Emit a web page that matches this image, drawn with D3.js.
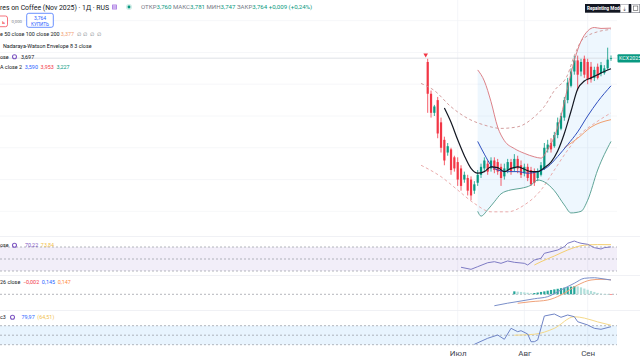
<!DOCTYPE html>
<html>
<head>
<meta charset="utf-8">
<script src="https://cdn.jsdelivr.net/npm/d3@7"></script>
<style>
  body { margin: 0; background: #fff; }
  svg { display: block; font-family: Roboto, "Noto Sans", sans-serif; }
  text { white-space: pre; }
</style>
</head>
<body>
<svg id="chart" width="640" height="360"></svg>
<script>
// daily bars, KCX2025, bar index 0..55
const opens  = [3.74,3.54,3.42,3.50,3.36,3.25,3.17,3.19,3.14,3.11,3.07,3.00,3.01,3.00,2.93,2.98,3.03,3.07,3.10,3.07,3.12,3.11,3.08,3.02,3.06,3.11,3.07,3.13,3.09,3.04,3.08,3.06,3.05,3.01,3.03,3.07,3.19,3.23,3.21,3.28,3.32,3.39,3.50,3.59,3.68,3.75,3.68,3.76,3.74,3.71,3.64,3.71,3.67,3.67,3.70,3.760];
const highs  = [3.76,3.56,3.47,3.52,3.39,3.27,3.23,3.20,3.15,3.14,3.09,3.05,3.03,3.02,2.99,3.06,3.10,3.14,3.12,3.14,3.14,3.13,3.10,3.10,3.13,3.13,3.16,3.15,3.12,3.10,3.10,3.08,3.07,3.07,3.11,3.23,3.25,3.26,3.30,3.39,3.42,3.52,3.64,3.70,3.78,3.78,3.76,3.78,3.76,3.74,3.71,3.73,3.74,3.72,3.83,3.781];
const lows   = [3.42,3.39,3.40,3.26,3.17,3.09,3.15,3.03,3.05,2.96,2.93,2.98,2.90,2.87,2.91,2.96,3.01,3.05,3.03,3.05,3.04,3.03,2.96,3.00,3.04,3.03,3.05,3.04,3.01,3.02,2.99,2.96,2.96,2.99,3.02,3.06,3.17,3.17,3.20,3.26,3.31,3.37,3.48,3.58,3.66,3.56,3.65,3.64,3.60,3.61,3.62,3.63,3.65,3.66,3.69,3.747];
const closes = [3.54,3.42,3.46,3.29,3.20,3.12,3.21,3.06,3.07,3.00,2.96,3.03,2.93,2.90,2.97,3.03,3.08,3.12,3.05,3.12,3.06,3.05,3.01,3.07,3.11,3.05,3.13,3.07,3.03,3.08,3.01,2.97,2.98,3.05,3.09,3.20,3.22,3.19,3.28,3.36,3.40,3.50,3.61,3.68,3.75,3.66,3.74,3.66,3.63,3.63,3.69,3.64,3.72,3.70,3.755,3.764];

// overlays: [bar index, value]
const maFast  = [[5,3.45],[7,3.36],[9,3.25],[11,3.15],[13,3.07],[15,3.04],[17,3.05],[19,3.08],[21,3.075],[23,3.05],[25,3.07],[27,3.08],[29,3.065],[31,3.05],[33,3.05],[35,3.075],[37,3.11],[39,3.18],[41,3.29],[43,3.43],[45,3.57],[47,3.62],[49,3.64],[51,3.66],[53,3.68],[55,3.697]];
const bbBasis = [[15,3.24],[17,3.16],[19,3.09],[21,3.06],[24,3.05],[27,3.05],[30,3.04],[33,3.05],[36,3.08],[39,3.145],[42,3.22],[45,3.30],[48,3.40],[51,3.49],[55,3.59]];
const bbUpper = [[15,3.69],[17,3.62],[19,3.49],[21,3.33],[23,3.245],[26,3.195],[29,3.165],[32,3.143],[34,3.135],[36,3.19],[38,3.27],[40,3.40],[42,3.58],[44,3.75],[46,3.87],[48,3.935],[50,3.957],[52,3.951],[55,3.953]];
const bbLower = [[15,2.80],[16,2.77],[18,2.81],[20,2.86],[22,2.91],[25,2.935],[28,2.945],[31,2.965],[33,2.997],[35,2.985],[38,2.93],[41,2.84],[43,2.79],[46,2.80],[48,2.87],[51,3.06],[55,3.24]];
const ma50    = [[41,3.20],[45,3.26],[49,3.33],[55,3.377]];
const nwUpper = [[-2,3.605],[2,3.56],[7,3.458],[12,3.385],[17,3.343],[22,3.322],[27,3.332],[32,3.395],[35,3.46],[38,3.56],[42,3.66],[44,3.78],[46,3.87],[48,3.905],[51,3.93],[55,3.945]];
const nwLower = [[-2,3.09],[4,3.018],[9,2.934],[14,2.85],[19,2.797],[24,2.797],[29,2.84],[34,2.934],[38,3.06],[42,3.185],[46,3.29],[50,3.353],[55,3.42]];

// oscillators
const rsi     = [[10,36.2],[13,32.8],[15,37.2],[18,43.8],[20,45.5],[22,42.8],[24,46.7],[26,44.5],[29,42.8],[30,40],[32,48.3],[34,51.2],[35,59.5],[37,62.2],[39,65],[41,70.5],[42,76.2],[44,80],[45,77.8],[46,76.2],[48,74.5],[50,68.9],[52,66.7],[53,68.9],[55,70.22]];
const rsiMa   = [[32,40],[34,45.5],[38,55],[42,65],[47,73],[51,74],[55,73.84]];
const macd    = [[20,-0.116],[24,-0.09],[28,-0.068],[32,-0.045],[36,-0.024],[40,0.044],[44,0.112],[47,0.162],[50,0.168],[52,0.16],[55,0.145]];
const signal  = [[27,-0.091],[31,-0.075],[36,-0.058],[40,-0.007],[45,0.094],[49,0.145],[52,0.152],[55,0.147]];
const histStart = 26;
const hist    = [0.03,0.027,0.024,0.02,0.016,0.012,0.013,0.018,0.024,0.03,0.037,0.044,0.05,0.056,0.062,0.068,0.073,0.078,0.082,0.08,0.07,0.058,0.046,0.034,0.024,0.014,0.007,0.003,0.001,-0.002];
const mfi     = [[14,30.8],[18,43.5],[21,50.4],[23,41.4],[25,64.5],[27,57.4],[28,59.5],[30,52.5],[31,36.3],[32,36.3],[33,39.9],[35,90.4],[38,94.6],[40,87.7],[42,92.5],[44,88.9],[45,78.4],[48,71.5],[50,64.5],[52,62.4],[55,67.9]];
const mfiMa   = [[26,50],[32,52],[38,64.5],[44,88.9],[47,86],[51,78],[55,71]];

const monthTicks = [9, 29, 48];
const monthLabels = ["Июл", "Авг", "Сен"];
const bands = [70, 50, 30];

const svg = d3.select("#chart");
const W = 640;

const x = d3.scaleLinear().domain([0, 55]).range([427.7, 611]);
const y = d3.scaleLinear().domain([2.67, 4.13]).range([232, 0]);
const yRsi = d3.scaleLinear().domain([30, 70]).range([271, 247]);
const yMacd = d3.scaleLinear().domain([0, 0.145]).range([294.3, 280]);
const yMfi = d3.scaleLinear().domain([30, 70]).range([344.7, 325.7]);

// grid
svg.append("g").selectAll("line").data(d3.range(2.8, 4.01, 0.2)).join("line")
  .attr("x1", 0).attr("x2", 617).attr("y1", d => y(d)).attr("y2", d => y(d))
  .attr("stroke", "#f4f5f8").attr("stroke-width", 0.8);
svg.append("g").selectAll("line").data(monthTicks).join("line")
  .attr("x1", d => x(d)).attr("x2", d => x(d)).attr("y1", 0).attr("y2", 347)
  .attr("stroke", "#f0f2f6").attr("stroke-width", 0.8);

// pane separators
[236.5, 275.5, 310.5].forEach(v => {
  svg.append("line").attr("x1", 0).attr("x2", W).attr("y1", v).attr("y2", v)
    .attr("stroke", "#eceef2").attr("stroke-width", 0.8);
});

function line(ys, curve) {
  return d3.line().x(d => x(d[0])).y(d => ys(d[1])).curve(curve || d3.curveMonotoneX);
}

// bollinger fill
svg.append("path")
  .attr("d", line(y)(bbUpper) + "L" + line(y)(bbLower.slice().reverse()).slice(1) + "Z")
  .attr("fill", "#2196f3").attr("fill-opacity", 0.08);

// current price line
const last = closes[closes.length - 1];
svg.append("line").attr("x1", 0).attr("x2", 617)
  .attr("y1", y(last)).attr("y2", y(last))
  .attr("stroke", "#d6d9e0").attr("stroke-width", 0.8);

// candles
const idx = d3.range(closes.length);
const up = i => closes[i] >= opens[i];
const cg = svg.append("g");
cg.selectAll("line").data(idx).join("line")
  .attr("x1", i => x(i)).attr("x2", i => x(i))
  .attr("y1", i => y(highs[i])).attr("y2", i => y(lows[i]))
  .attr("stroke", i => up(i) ? "#089981" : "#f23645").attr("stroke-width", 0.8);
cg.selectAll("rect").data(idx).join("rect")
  .attr("x", i => x(i) - 1.1).attr("width", 2.2)
  .attr("y", i => y(Math.max(opens[i], closes[i])))
  .attr("height", i => Math.max(0.8, Math.abs(y(opens[i]) - y(closes[i]))))
  .attr("fill", i => up(i) ? "#089981" : "#f23645");

// marker over first bar
svg.append("path")
  .attr("d", d3.symbol(d3.symbolTriangle, 9)())
  .attr("transform", `translate(${x(0) - 2},${y(highs[0]) - 4}) rotate(180)`)
  .attr("fill", "#f23645");

// overlay lines
function draw(data, ys, color, width, dash, curve) {
  svg.append("path").datum(data)
    .attr("d", line(ys, curve))
    .attr("fill", "none").attr("stroke", color)
    .attr("stroke-width", width)
    .attr("stroke-dasharray", dash || null);
}
draw(nwUpper, y, "#cf9494", 0.9, "3,2.5");
draw(nwLower, y, "#e8a3a3", 0.9, "3,2.5");
draw(bbUpper, y, "#d9747a", 0.9);
draw(bbLower, y, "#4f9b8c", 0.9);
draw(ma50, y, "#f0a070", 1);
draw(bbBasis, y, "#2f4fbf", 1);
draw(maFast, y, "#131722", 1.2);

// RSI pane
svg.append("rect").attr("x", 0).attr("width", 617)
  .attr("y", yRsi(70)).attr("height", yRsi(30) - yRsi(70))
  .attr("fill", "#7e57c2").attr("fill-opacity", 0.1);
bands.forEach(b => {
  svg.append("line").attr("x1", 0).attr("x2", 617).attr("y1", yRsi(b)).attr("y2", yRsi(b))
    .attr("stroke", "#9598a1").attr("stroke-width", 0.7).attr("stroke-dasharray", "2,2");
});
draw(rsiMa, yRsi, "#f5cf70", 1);
draw(rsi, yRsi, "#7e7bc4", 1, null, d3.curveLinear);

// MACD pane
svg.append("line").attr("x1", 0).attr("x2", 617).attr("y1", yMacd(0)).attr("y2", yMacd(0))
  .attr("stroke", "#9598a1").attr("stroke-width", 0.7).attr("stroke-dasharray", "2,2");
svg.append("g").selectAll("rect").data(hist).join("rect")
  .attr("x", (d, i) => x(histStart + i) - 1.1).attr("width", 2.2)
  .attr("y", d => Math.min(yMacd(d), yMacd(0)))
  .attr("height", d => Math.max(0.6, Math.abs(yMacd(d) - yMacd(0))))
  .attr("fill", (d, i) => {
    const prev = i > 0 ? hist[i - 1] : d;
    if (d >= 0) return d >= prev ? "#26a69a" : "#b2dfdb";
    return d >= prev ? "#ffcdd2" : "#ff5252";
  });
draw(signal, yMacd, "#f0a27a", 1);
draw(macd, yMacd, "#7a8fc9", 1);

// MFI pane
svg.append("rect").attr("x", 0).attr("width", 617)
  .attr("y", yMfi(70)).attr("height", yMfi(30) - yMfi(70))
  .attr("fill", "#2196f3").attr("fill-opacity", 0.1);
bands.forEach(b => {
  svg.append("line").attr("x1", 0).attr("x2", 617).attr("y1", yMfi(b)).attr("y2", yMfi(b))
    .attr("stroke", "#9598a1").attr("stroke-width", 0.7).attr("stroke-dasharray", "2,2");
});
draw(mfiMa, yMfi, "#f5d98a", 1);
draw(mfi, yMfi, "#6f84c6", 1, null, d3.curveLinear);

// time axis
const ax = svg.append("g").attr("transform", "translate(0,347)")
  .call(d3.axisBottom(x).tickValues(monthTicks).tickFormat((d, i) => monthLabels[i]).tickSize(0).tickPadding(3));
ax.select(".domain").remove();
ax.selectAll("text").attr("font-size", 8).attr("fill", "#434651").attr("font-family", "Roboto, sans-serif");

// legends
function addText(x0, y0, parts, size) {
  const t = svg.append("text").attr("x", x0).attr("y", y0).attr("font-size", size);
  parts.forEach(p => t.append("tspan").attr("fill", p[1]).text(p[0]));
  return t;
}
const dark = "#131722", grey = "#787b86", green = "#089981", red = "#f23645", blue = "#2962ff";

addText(0, 9.8, [["res on Coffee (Nov 2025) · 1Д · RUS", dark]], 6.9);
// little icons in title row
svg.append("rect").attr("x", 112).attr("y", 4.5).attr("width", 5).attr("height", 5).attr("fill", "#b388e6").attr("rx", 0.6);
[5.8, 7, 8.2].forEach(v => svg.append("line").attr("x1", 113).attr("x2", 116).attr("y1", v).attr("y2", v).attr("stroke", "#fff").attr("stroke-width", 0.5));
svg.append("circle").attr("cx", 129).attr("cy", 7).attr("r", 3).attr("fill", green).attr("fill-opacity", 0.18);
svg.append("circle").attr("cx", 129).attr("cy", 7).attr("r", 1.4).attr("fill", green);
addText(141, 9.2, [["ОТКР", grey], ["3,760", green], [" МАКС", grey], ["3,781", green], [" МИН", grey], ["3,747", green], [" ЗАКР", grey], ["3,764", green], [" +0,009 (+0,24%)", green]], 6.1);

// order buttons
svg.append("rect").attr("x", -4).attr("y", 16).attr("width", 11.5).attr("height", 10.7).attr("rx", 2)
  .attr("fill", "#fff").attr("stroke", red).attr("stroke-width", 0.7);
addText(2, 23.5, [["ь", red]], 5.5);
addText(11.5, 22.5, [["0,000", grey]], 4.3);
svg.append("rect").attr("x", 26.7).attr("y", 13.3).attr("width", 26.6).attr("height", 14).attr("rx", 2)
  .attr("fill", "#fff").attr("stroke", blue).attr("stroke-width", 0.7);
addText(40, 19.5, [["3,764", blue]], 5).attr("text-anchor", "middle");
addText(40, 25.8, [["КУПИТЬ", blue]], 4.6).attr("text-anchor", "middle");

addText(0, 36.2, [["e 50 close 100 close 200 ", dark], ["3,377", "#f0a070"], ["  ∅  ∅  ∅  ∅", grey]], 5.4);
addText(3, 47.6, [["Nadaraya-Watson Envelope 8 3 close", dark]], 5.4);
addText(0, 58.6, [["ose", dark]], 5.4);
svg.append("circle").attr("cx", 14.5).attr("cy", 56.8).attr("r", 2).attr("fill", "none").attr("stroke", "#7e57c2").attr("stroke-width", 1.1);
addText(21, 58.6, [["3,697", dark]], 5.4);
addText(0, 68.6, [["A close 2  ", dark], ["3,590", blue], ["  3,953", red], ["  3,227", green]], 5.4);

addText(0, 247, [["ose", dark]], 5.4);
svg.append("circle").attr("cx", 14.5).attr("cy", 245.2).attr("r", 2).attr("fill", "none").attr("stroke", "#7e57c2").attr("stroke-width", 1.1);
addText(25, 247, [["70,22", "#7e57c2"], ["  73,84", "#f2c14e"]], 5.4);
addText(0, 283.5, [["26 close  ", dark], ["−0,002", red], ["  0,145", blue], ["  0,147", "#ff8a3d"]], 5.4);
addText(0, 319, [["c3", dark]], 5.4);
svg.append("circle").attr("cx", 12.5).attr("cy", 317.2).attr("r", 2).attr("fill", "none").attr("stroke", "#7e57c2").attr("stroke-width", 1.1);
addText(21.5, 319, [["79,97", blue], ["  (64,51)", "#f2c14e"]], 5.4);

// top-right widgets
svg.append("rect").attr("x", 585).attr("y", 4).attr("width", 55).attr("height", 8.7).attr("fill", "#131722");
addText(587, 10.2, [["Repainting Mode", "#fff"]], 4.6).attr("font-weight", "bold");
svg.append("rect").attr("x", 620.5).attr("y", 4.3).attr("width", 8).attr("height", 8).attr("fill", "#fff").attr("stroke", "#c5c8d0").attr("stroke-width", 0.5);
addText(624.5, 10.5, [["⇣", "#555"]], 6).attr("text-anchor", "middle");
svg.append("rect").attr("x", 631.5).attr("y", 4.3).attr("width", 8).attr("height", 8).attr("fill", "#fff").attr("stroke", "#c5c8d0").attr("stroke-width", 0.5);
svg.append("rect").attr("x", 633.3).attr("y", 6).attr("width", 4.5).attr("height", 4.5).attr("fill", "none").attr("stroke", "#555").attr("stroke-width", 0.6);

// symbol label on price scale
svg.append("rect").attr("x", 617.5).attr("y", y(last) - 4).attr("width", 23).attr("height", 8.3).attr("fill", green).attr("rx", 1);
addText(619, y(last) + 2, [["KCX2025", "#fff"]], 5.4);
</script>
</body>
</html>
